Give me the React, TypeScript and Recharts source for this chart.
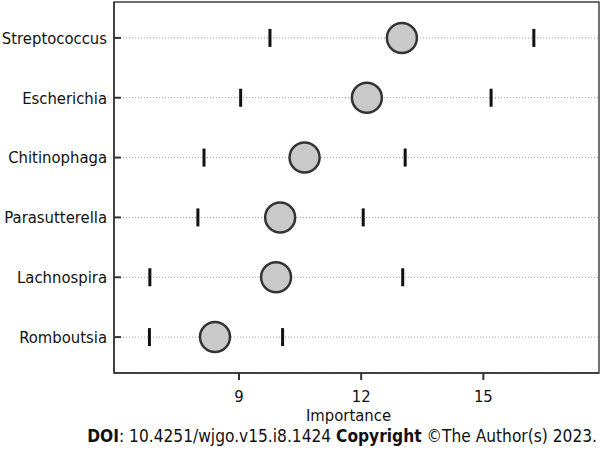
import { ScatterChart, Scatter, XAxis, YAxis, CartesianGrid, ReferenceArea } from "recharts"

const genera = ["Streptococcus", "Escherichia", "Chitinophaga", "Parasutterella", "Lachnospira", "Romboutsia"]
const lower = [9.76, 9.04, 8.14, 7.99, 6.81, 6.8]
const importance = [13.0, 12.14, 10.61, 10.01, 9.91, 8.41]
const upper = [16.24, 15.19, 13.08, 12.05, 13.02, 10.07]
const xTicks = [9, 12, 15]

const FONT = "'DejaVu Sans Condensed', Tahoma, 'Liberation Sans', sans-serif"

const toPoints = (vals: number[]) => genera.map((g, i) => ({ x: vals[i], y: i, name: g }))

function Whisker(props: any) {
  const { cx, cy } = props
  return <rect x={cx - 1.5} y={cy - 9} width={3} height={18} fill="#111" />
}

function Dot(props: any) {
  const { cx, cy } = props
  return <circle cx={cx} cy={cy} r={15} fill="#c9c9c9" stroke="#333" strokeWidth={2.5} />
}

export default function App() {
  return (
    <div style={{ position: "absolute", left: 0, top: 0, width: 605, height: 449, background: "#fff", fontFamily: FONT }}>
      <ScatterChart width={605} height={449} margin={{ top: 2, right: 6, left: 0, bottom: 24 }}>
        <CartesianGrid vertical={false} stroke="#9a9a9a" strokeDasharray="1 2" />
        <XAxis
          type="number"
          dataKey="x"
          domain={[5.93, 17.84]}
          ticks={xTicks}
          allowDataOverflow
          height={52}
          tickSize={7}
          tickMargin={10}
          axisLine={{ stroke: "#333", strokeWidth: 1.5 }}
          tickLine={{ stroke: "#333", strokeWidth: 2 }}
          tick={{ fill: "#111", fontSize: 16.5, fontFamily: FONT }}
          label={{ value: "Importance", position: "insideBottom", offset: 4, dx: -8, fill: "#111", fontSize: 16.5, fontFamily: FONT }}
        />
        <YAxis
          type="number"
          dataKey="y"
          reversed
          domain={[-0.6, 5.6]}
          ticks={genera.map((_, i) => i)}
          tickFormatter={(i: number) => genera[i]}
          interval={0}
          width={114}
          tickSize={-7}
          tickMargin={14}
          axisLine={{ stroke: "#333", strokeWidth: 1.5 }}
          tickLine={{ stroke: "#333", strokeWidth: 2 }}
          tick={{ fill: "#111", fontSize: 16.5, fontFamily: FONT }}
        />
        <ReferenceArea x1={5.93} x2={17.84} y1={-0.6} y2={5.6} fill="none" stroke="#444" strokeWidth={1.5} ifOverflow="visible" />
        <Scatter data={toPoints(lower)} shape={Whisker} isAnimationActive={false} />
        <Scatter data={toPoints(upper)} shape={Whisker} isAnimationActive={false} />
        <Scatter data={toPoints(importance)} shape={Dot} isAnimationActive={false} />
      </ScatterChart>
      <div style={{ position: "absolute", right: 8, top: 426, fontSize: 17.2, lineHeight: "20px", color: "#111", whiteSpace: "nowrap" }}>
        <b>DOI</b>: 10.4251/wjgo.v15.i8.1424 <b>Copyright</b> ©The Author(s) 2023.
      </div>
    </div>
  )
}
